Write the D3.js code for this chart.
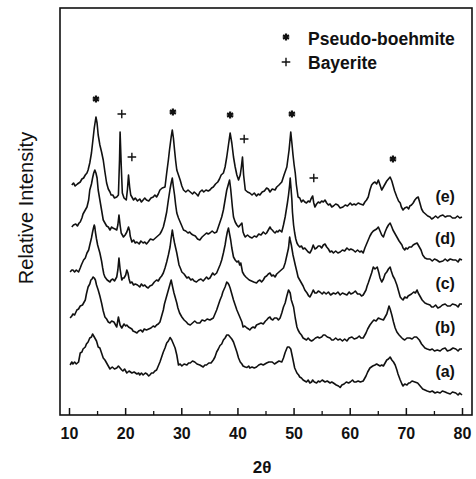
<!DOCTYPE html>
<html lang="en">

<head>
	<meta charset="UTF-8">
	<title>XRD patterns</title>

	<style>
		body {
			margin: 0;
			background: #fff;
		}

		text {
			font-family: "Liberation Sans", Arial, sans-serif;
			fill: #111;
		}
	</style>

	<script src="https://d3js.org/d3.v7.min.js"></script>

</head>

<body>

	<script type="text/javascript">
		// patterns, [2theta, intensity] (arbitrary units, offsets included)
		const curveA = [[10.2,50],[10.5,53],[10.7,51],[11.0,53],[11.3,51],[11.7,53],[12.0,62],[12.3,63],[12.5,66],[12.9,68],[13.1,71],[13.4,73],[13.7,77],[14.0,78],[14.2,81],[14.4,79],[14.6,77],[14.9,74],[15.2,68],[15.5,67],[15.8,62],[16.1,57],[16.4,55],[16.7,52],[17.0,49],[17.3,46],[17.7,48],[18.1,46],[18.5,47],[18.8,49],[19.1,47],[19.4,45],[19.6,44],[19.9,46],[20.3,42],[20.7,44],[21.2,42],[21.6,43],[22.1,41],[22.4,42],[22.6,40],[22.9,42],[23.2,40],[23.6,42],[23.9,41],[24.2,39],[24.4,40],[24.7,42],[25.0,42],[25.3,44],[25.6,45],[25.9,49],[26.2,53],[26.5,58],[26.8,63],[27.1,67],[27.4,72],[27.7,74],[28.0,77.5],[28.3,75],[28.6,71],[28.9,67],[29.2,60],[29.5,50],[29.8,51],[30.1,49],[30.5,51],[31.0,50],[31.3,52],[31.6,52],[32.0,54],[32.4,53],[32.8,51],[33.3,50],[33.6,49],[33.9,48],[34.2,50],[34.5,50],[34.9,52],[35.3,52],[35.7,55],[36.0,58],[36.3,63],[36.6,66],[36.9,69.5],[37.2,71],[37.5,75],[37.8,77],[38.1,80],[38.4,80],[38.7,78],[39.0,76],[39.3,73],[39.6,68],[39.9,63],[40.2,57],[40.5,53],[40.8,51],[41.0,49],[41.4,48],[41.7,47.5],[42.0,49],[42.2,47],[42.6,48],[43.0,47],[43.4,48],[43.8,50],[44.2,51],[44.6,50],[45.2,52],[45.6,53],[46.2,53],[46.6,51],[47.0,52.5],[47.4,54],[47.9,53],[48.2,57],[48.5,62.5],[48.9,68],[49.2,68],[49.5,66],[49.8,58],[50.2,47],[50.6,42],[50.9,40],[51.1,38],[51.4,37],[51.7,35],[52.0,34],[52.3,33],[52.6,35],[52.9,32],[53.2,33],[53.4,35],[53.7,33],[54.1,32],[54.4,34],[54.7,33],[55.1,35],[55.6,33],[56.0,34],[56.5,32],[56.8,33],[57.1,32],[57.6,30],[58.0,29],[58.3,27.5],[58.6,30],[59.0,31],[59.4,33],[59.8,32],[60.1,33],[60.5,35],[60.8,33],[61.1,33],[61.5,34],[61.9,33],[62.4,34],[62.9,39],[63.2,43],[63.6,47],[64.1,49],[64.5,50],[64.8,51],[65.1,50],[65.4,49],[65.7,50],[66.0,49],[66.3,52],[66.6,55],[66.9,56],[67.2,58],[67.5,55],[67.8,53],[68.1,50],[68.4,45],[68.6,41],[69.0,35],[69.3,31],[69.5,29],[69.8,31],[70.2,30],[70.5,32],[70.7,32],[71.1,34],[71.6,33],[72.1,32],[72.4,30],[72.7,28],[73.0,26],[73.4,25],[73.8,24],[74.3,23],[74.7,24],[75.2,22],[75.6,23],[76.1,22],[76.5,24],[77.0,23],[77.4,22],[77.9,21],[78.3,23],[78.9,22],[79.3,20],[79.6,22],[80.0,20]];

		const curveB = [[10.2,97],[10.5,99],[10.7,101],[11.0,100],[11.4,105],[11.7,106],[12.0,109],[12.4,110],[12.9,115],[13.1,121],[13.4,128],[13.7,131],[13.9,135],[14.1,136],[14.3,138],[14.5,137],[14.7,135],[14.9,130],[15.2,125],[15.5,119],[15.8,112],[16.1,104],[16.4,98],[16.7,96],[17.0,93],[17.3,92],[17.6,94],[18.0,93],[18.3,90],[18.5,88],[18.8,98],[19.1,90],[19.4,87],[19.6,89],[19.8,91],[20.1,89],[20.3,90],[20.6,88],[20.9,87],[21.2,86],[21.4,84],[21.8,83],[22.1,82],[22.4,84],[22.8,85],[23.1,83],[23.4,86],[23.8,85],[24.2,86],[24.6,87],[25.0,89],[25.3,88],[25.6,90],[25.9,91],[26.2,93],[26.5,99],[26.8,105],[27.0,111],[27.3,117],[27.5,121],[27.7,125],[28.0,131],[28.2,135],[28.5,127],[28.7,122],[28.9,118],[29.2,112],[29.4,107],[29.7,102],[30.1,98],[30.5,95],[30.9,93],[31.2,91],[31.6,90],[32.0,92],[32.4,94],[32.8,92],[33.3,92],[33.7,95],[34.2,94],[34.6,96],[35.1,95],[35.4,96],[35.7,97],[36.0,101],[36.3,105],[36.6,110],[36.9,115],[37.2,119],[37.4,123],[37.8,128],[38.1,133],[38.3,132],[38.5,130],[38.7,127],[38.9,123],[39.1,119],[39.3,115],[39.6,110],[39.9,105],[40.2,101],[40.5,97],[40.8,93],[41.0,88],[41.3,89],[41.7,87],[42.0,86],[42.2,85],[42.5,87],[42.8,88],[43.1,87],[43.4,90],[43.8,91],[44.2,92],[44.6,91],[45.0,94],[45.2,95],[45.5,97],[45.8,98],[46.0,96],[46.3,95],[46.6,97],[47.0,97],[47.3,95],[47.6,97],[47.9,102],[48.2,108],[48.5,112],[48.8,119],[49.1,125],[49.4,122],[49.6,115],[50.0,108],[50.3,97],[50.6,88],[50.8,85],[51.1,82],[51.4,80],[51.7,77],[52.0,76],[52.3,75],[52.6,77],[52.9,75],[53.2,74],[53.5,75],[53.9,77],[54.3,78],[54.6,77],[55.0,78],[55.3,80],[55.6,80],[56.0,78],[56.5,77],[56.8,75],[57.1,75],[57.5,77],[57.9,75],[58.3,76],[58.7,74],[59.1,76],[59.5,74],[59.9,77],[60.4,78],[60.8,76],[61.3,77],[61.7,79],[62.0,77],[62.4,77],[62.9,82],[63.2,86],[63.6,90],[64.0,93],[64.3,95],[64.7,94],[65.1,97],[65.5,96],[66.0,95],[66.3,98],[66.6,101],[66.8,105],[67.0,109],[67.2,106],[67.5,100],[67.8,93],[68.1,87],[68.4,83],[68.8,80],[69.3,77],[69.5,76],[69.8,75],[70.2,77],[70.7,77],[71.1,76],[71.5,78],[71.9,78],[72.4,75],[72.8,71],[73.1,69],[73.4,67],[73.8,66],[74.3,65],[74.7,66],[75.1,64],[75.6,65],[76.1,64],[76.5,66],[77.0,67],[77.4,64],[77.9,65],[78.4,67],[78.9,66],[79.3,64],[79.6,66],[80.0,66]];

		const curveC = [[10.2,143],[10.5,145],[10.7,145],[11.0,143],[11.3,145],[11.7,143],[12.0,147],[12.2,150],[12.6,155],[12.9,157],[13.2,162],[13.5,165],[13.7,170],[14.0,177],[14.2,183],[14.4,188],[14.5,190],[14.6,188],[14.7,183],[14.9,176],[15.1,170],[15.3,166],[15.5,162],[15.8,154],[16.0,147],[16.2,141],[16.4,138],[16.8,135],[17.3,133],[17.5,135],[17.8,136],[18.1,134],[18.5,138],[18.7,145],[18.9,157],[19.1,146],[19.4,135],[19.6,137],[19.8,137],[20.1,140],[20.3,145],[20.5,142],[20.7,136],[20.9,132],[21.2,133],[21.5,130],[21.8,131],[22.2,130],[22.6,128],[22.9,131],[23.2,129],[23.5,130],[23.8,128],[24.1,127],[24.4,129],[24.8,130],[25.2,133],[25.6,135],[25.9,134],[26.2,137],[26.5,139],[26.8,142],[27.1,147],[27.4,153],[27.7,160],[28.0,168],[28.2,177],[28.4,185],[28.6,178],[28.8,172],[29.0,167],[29.2,162],[29.4,156],[29.6,150],[29.9,146],[30.1,143],[30.5,141],[31.0,137],[31.3,138],[31.7,135],[32.0,136],[32.3,134],[32.7,133],[33.1,135],[33.5,136],[33.9,134],[34.2,136],[34.5,138],[34.8,136],[35.1,137],[35.4,140],[35.6,142],[35.9,140],[36.3,142],[36.6,146],[36.9,150],[37.2,155],[37.5,162],[37.8,170],[38.0,177],[38.2,183],[38.4,187],[38.6,181],[38.8,175],[39.0,167],[39.3,158],[39.6,155],[39.9,153],[40.2,154],[40.4,150],[40.6,152],[40.9,143],[41.2,140],[41.5,138],[41.7,137],[42.1,135],[42.5,134],[42.9,133],[43.4,132],[43.7,134],[44.0,135],[44.3,133],[44.6,135],[44.9,138],[45.2,139],[45.5,141],[45.8,142],[46.1,139],[46.4,140],[46.7,138],[47.0,141],[47.4,143],[47.8,145],[48.2,147],[48.5,152],[48.7,157],[48.9,162],[49.1,167],[49.3,178],[49.4,175],[49.6,170],[49.9,160],[50.1,155],[50.3,150],[50.6,143],[50.8,138],[51.1,135],[51.4,132],[51.7,129],[52.0,125],[52.4,122],[52.7,119],[52.9,118],[53.2,121],[53.5,125],[53.8,122],[54.1,122],[54.4,124],[54.7,123],[55.1,121],[55.4,123],[55.8,121],[56.2,123],[56.6,120],[57.1,122],[57.5,121],[57.9,123],[58.3,120],[58.7,122],[59.1,121],[59.5,120],[59.9,123],[60.2,121],[60.6,122],[61.0,124],[61.4,121],[61.8,121],[62.1,119],[62.4,120],[62.7,123],[62.9,125],[63.1,129],[63.3,132],[63.6,137],[63.9,142],[64.2,148],[64.5,146],[64.9,148],[65.2,142],[65.4,137],[65.7,133],[66.0,136],[66.3,141],[66.6,143],[66.9,146],[67.2,148],[67.4,144],[67.7,139],[68.0,136],[68.4,130],[68.7,124],[69.0,118],[69.3,116],[69.5,115],[69.8,118],[70.2,117],[70.4,119],[70.7,120],[71.0,121],[71.4,123],[71.7,122],[72.0,125],[72.2,122],[72.5,119],[72.9,115],[73.4,112],[73.8,111],[74.3,110],[74.6,108],[74.9,108],[75.3,110],[75.7,107],[76.1,108],[76.5,110],[77.0,111],[77.4,109],[77.9,109],[78.3,111],[78.9,110],[79.3,108],[79.6,111],[80.0,111]];

		const curveD = [[10.5,188],[10.8,190],[11.2,191],[11.5,189],[11.8,192],[12.0,193],[12.3,197],[12.5,201],[12.9,205],[13.2,208],[13.5,215],[13.7,225],[14.0,231],[14.2,237],[14.4,242],[14.6,245],[14.8,242],[15.0,237],[15.2,225],[15.5,215],[15.8,205],[16.1,195],[16.4,192],[16.7,189],[17.0,188],[17.3,185],[17.6,188],[17.8,187],[18.2,186],[18.5,185],[18.7,190],[18.9,200],[19.1,190],[19.3,182],[19.5,180],[19.7,178],[20.0,180],[20.3,183],[20.6,188],[20.8,184],[20.9,179],[21.2,173],[21.5,175],[21.8,172],[22.1,173],[22.5,171],[22.8,174],[23.2,172],[23.5,173],[23.8,171],[24.1,173],[24.5,176],[25.0,175],[25.4,177],[25.8,179],[26.2,181],[26.5,184],[26.8,188],[27.1,195],[27.4,203],[27.7,215],[28.0,226],[28.2,232],[28.4,237],[28.6,228],[28.8,220],[29.0,210],[29.2,202],[29.5,197],[29.8,193],[30.1,189],[30.4,185],[30.8,184],[31.2,182],[31.5,183],[31.8,181],[32.1,180],[32.5,179],[32.9,176],[33.3,175],[33.7,178],[34.1,180],[34.5,182],[34.8,181],[35.1,182],[35.5,184],[35.9,182],[36.3,183],[36.6,188],[36.9,193],[37.2,198],[37.5,205],[37.8,215],[38.1,225],[38.4,231],[38.6,235],[38.8,226],[38.9,220],[39.1,208],[39.3,198],[39.6,193],[39.9,190],[40.2,188],[40.5,190],[40.8,192],[41.0,183],[41.2,180],[41.4,178],[41.8,180],[42.2,178],[42.6,177],[43.0,179],[43.4,178],[43.8,181],[44.2,180],[44.6,183],[45.0,181],[45.2,182],[45.5,185],[45.8,188],[46.0,186],[46.2,185],[46.5,183],[46.7,182],[47.0,184],[47.2,183],[47.5,185],[47.9,183],[48.2,190],[48.5,198],[48.7,205],[48.9,212],[49.1,220],[49.3,230],[49.4,237],[49.5,230],[49.7,215],[49.8,203],[50.0,190],[50.2,182],[50.4,176],[50.6,172],[50.8,170],[51.1,168],[51.4,169],[51.7,166],[52.0,167],[52.3,165],[52.6,163],[52.9,162],[53.2,165],[53.5,170],[53.8,166],[54.1,167],[54.4,169],[54.7,169],[55.0,167],[55.3,170],[55.6,171],[55.9,168],[56.2,166],[56.5,163],[56.8,164],[57.1,162],[57.5,164],[57.9,162],[58.3,163],[58.7,165],[59.1,164],[59.5,167],[59.9,165],[60.2,166],[60.6,165],[61.0,163],[61.4,165],[61.8,163],[62.1,164],[62.4,162],[62.7,167],[63.0,171],[63.3,175],[63.6,179],[63.9,182],[64.2,184],[64.5,185],[64.8,186],[65.1,188],[65.4,184],[65.7,180],[66.0,178],[66.3,183],[66.6,187],[66.9,190],[67.2,192],[67.5,188],[67.7,185],[68.0,182],[68.4,178],[68.8,174],[69.3,170],[69.5,167],[69.8,165],[70.0,167],[70.3,166],[70.6,168],[71.0,168],[71.3,170],[71.6,171],[72.0,172],[72.3,169],[72.7,165],[73.0,160],[73.4,157],[73.8,156],[74.3,156],[74.7,154],[75.1,156],[75.5,155],[76.0,153],[76.6,154],[77.0,156],[77.4,154],[77.9,156],[78.4,155],[78.9,155],[79.3,153],[79.6,156],[80.0,155]];

		const curveE = [[10.5,230],[10.8,232],[11.1,229],[11.5,231],[12.0,233],[12.3,236],[12.6,237],[12.9,240],[13.2,242],[13.4,245],[13.7,252],[14.0,262],[14.2,272],[14.5,287],[14.8,298],[15.0,292],[15.2,280],[15.5,270],[15.8,263],[16.1,255],[16.4,243],[16.7,232],[17.0,226],[17.3,223],[17.5,220],[17.8,220],[18.1,217],[18.5,218],[18.8,220],[19.0,255],[19.1,283],[19.3,250],[19.5,222],[19.8,217],[20.2,215],[20.4,225],[20.6,240],[20.8,228],[21.0,220],[21.2,218],[21.5,215],[21.8,217],[22.2,214],[22.6,216],[22.9,213],[23.2,215],[23.5,217],[23.8,215],[24.2,214],[24.6,217],[25.0,218],[25.3,220],[25.6,218],[25.9,221],[26.2,225],[26.6,227],[27.1,228],[27.4,242],[27.7,255],[27.9,265],[28.2,278],[28.4,285],[28.6,277],[28.8,265],[29.0,254],[29.2,245],[29.5,240],[29.8,235],[30.1,229],[30.4,225],[30.8,223],[31.2,225],[31.6,223],[32.0,221],[32.3,223],[32.7,221],[33.0,219],[33.3,223],[33.7,225],[34.0,223],[34.4,225],[34.8,224],[35.1,225],[35.4,227],[35.7,228],[36.1,231],[36.5,233],[36.8,236],[37.1,240],[37.5,242],[37.8,248],[38.1,258],[38.4,270],[38.7,282],[39.0,272],[39.3,258],[39.6,248],[39.9,240],[40.2,235],[40.5,240],[40.7,248],[40.9,258],[41.1,240],[41.4,225],[41.8,223],[42.2,222],[42.6,220],[43.0,222],[43.4,219],[43.7,221],[44.0,220],[44.4,223],[44.8,224],[45.2,227],[45.5,226],[45.8,223],[46.2,226],[46.7,225],[47.0,228],[47.4,230],[47.9,233],[48.3,240],[48.8,248],[49.2,265],[49.5,283],[49.7,272],[49.9,260],[50.1,250],[50.3,242],[50.5,230],[50.8,218],[51.1,217],[51.4,213],[51.7,215],[52.0,213],[52.3,212],[52.6,214],[52.9,213],[53.1,216],[53.4,219],[53.6,212],[53.8,208],[54.1,211],[54.4,213],[54.7,212],[55.0,214],[55.3,213],[55.6,215],[55.9,212],[56.2,210],[56.5,211],[56.8,208],[57.1,209],[57.5,211],[57.9,210],[58.3,207],[58.8,208],[59.2,210],[59.6,209],[60.1,212],[60.4,210],[60.8,211],[61.1,210],[61.5,212],[61.9,211],[62.4,210],[62.7,213],[63.0,215],[63.3,218],[63.6,225],[63.9,230],[64.2,232],[64.5,233],[64.8,231],[65.1,235],[65.4,230],[65.7,225],[66.0,228],[66.3,231],[66.6,234],[66.9,236],[67.2,238],[67.5,234],[67.7,230],[68.0,224],[68.4,218],[68.7,214],[69.0,212],[69.2,208],[69.5,205],[69.8,207],[70.2,208],[70.5,206],[70.7,209],[71.0,210],[71.3,212],[71.6,215],[71.9,217],[72.2,218],[72.4,214],[72.6,210],[72.8,206],[73.1,203],[73.5,201],[73.9,199],[74.3,198],[74.6,196],[74.9,197],[75.3,199],[75.7,197],[76.1,199],[76.6,200],[77.0,198],[77.4,199],[77.9,199],[78.3,197],[78.8,197],[79.2,199],[79.6,197],[80.0,198]];

		const curves = [curveA, curveB, curveC, curveD, curveE];
		const curveLabels = ["(a)", "(b)", "(c)", "(d)", "(e)"];

		// peak positions marked above pattern (e)
		const boehmitePeaks = [14.8, 28.5, 38.7, 49.7, 67.7];
		const bayeritePeaks = [19.4, 21.2, 41.2, 53.6];

		const legendNames = ["Pseudo-boehmite", "Bayerite"];
		const xTicks = [10, 20, 30, 40, 50, 60, 70, 80];
		const xMinorTicks = [15, 25, 35, 45, 55, 65, 75];

		let width = 476;
		let height = 479;

		const plot = { left: 60, right: 472, top: 8, bottom: 415 };

		const svg = d3.select("body").append("svg")
			.attr("width", width)
			.attr("height", height);

		const x = d3.scaleLinear()
			.domain([10, 80])
			.range([69, 462]);

		const y = d3.scaleLinear()
			.domain([0, 407])
			.range([plot.bottom, plot.top]);

		// frame
		svg.append("rect")
			.attr("x", plot.left)
			.attr("y", plot.top)
			.attr("width", plot.right - plot.left)
			.attr("height", plot.bottom - plot.top)
			.style("fill", "none")
			.style("stroke", "#111")
			.style("stroke-width", 1.6);

		// bottom axis, ticks pointing inside
		const xAxis = svg.append("g")
			.attr("transform", "translate(0," + plot.bottom + ")")
			.call(d3.axisBottom(x).tickValues(xTicks).tickSizeInner(-7).tickSizeOuter(0).tickPadding(13));
		xAxis.select(".domain").remove();
		xAxis.selectAll("line").style("stroke", "#111").style("stroke-width", 1.5);
		xAxis.selectAll("text")
			.style("font-size", "16px")
			.style("font-weight", "bold")
			.style("font-family", "'Liberation Sans', Arial, sans-serif")
			.style("fill", "#111");

		const xMinor = svg.append("g")
			.attr("transform", "translate(0," + plot.bottom + ")")
			.call(d3.axisBottom(x).tickValues(xMinorTicks).tickSizeInner(-4).tickSizeOuter(0).tickFormat(""));
		xMinor.select(".domain").remove();
		xMinor.selectAll("line").style("stroke", "#111").style("stroke-width", 1.3);

		// axis titles
		svg.append("text")
			.attr("x", x(44.4))
			.attr("y", 473)
			.attr("text-anchor", "middle")
			.style("font-size", "17px")
			.style("font-weight", "bold")
			.text("2θ");

		svg.append("text")
			.attr("transform", "translate(33,208) rotate(-90)")
			.attr("text-anchor", "middle")
			.style("font-size", "20px")
			.text("Relative Intensity");

		// the patterns
		const line = d3.line()
			.x(function(d) {
				return x(d[0]);
			})
			.y(function(d) {
				return y(d[1]);
			});

		svg.selectAll(".pattern")
			.data(curves)
			.join("path")
			.attr("class", "pattern")
			.attr("d", line)
			.style("fill", "none")
			.style("stroke", "#111")
			.style("stroke-width", 1.6)
			.style("stroke-linejoin", "round");

		// (a)..(e) labels sit a little above each pattern near 77 degrees
		const bisect = d3.bisector(function(d) {
			return d[0];
		});
		svg.selectAll(".clabel")
			.data(curves)
			.join("text")
			.attr("class", "clabel")
			.attr("x", x(77))
			.attr("y", function(d) {
				return y(d[bisect.center(d, 77)][1]) - 21;
			})
			.attr("text-anchor", "middle")
			.attr("dominant-baseline", "central")
			.style("font-size", "16px")
			.style("font-weight", "bold")
			.text(function(d, i) {
				return curveLabels[i];
			});

		// peak markers above pattern (e)
		function peakTop(t) {
			const near = curveE.filter(function(d) {
				return Math.abs(d[0] - t) <= 0.7;
			});
			return y(d3.max(near, function(d) {
				return d[1];
			})) - 18;
		}

		const star = d3.symbol().type(d3.symbolAsterisk).size(34);
		const plus = d3.symbol().type(d3.symbolPlus).size(26);

		svg.selectAll(".boehmite")
			.data(boehmitePeaks)
			.join("path")
			.attr("class", "boehmite")
			.attr("d", star)
			.attr("transform", function(d) {
				return "translate(" + x(d) + "," + peakTop(d) + ")";
			})
			.style("fill", "none")
			.style("stroke", "#111")
			.style("stroke-width", 2.2);

		svg.selectAll(".bayerite")
			.data(bayeritePeaks)
			.join("path")
			.attr("class", "bayerite")
			.attr("d", plus)
			.attr("transform", function(d) {
				return "translate(" + x(d) + "," + peakTop(d) + ")";
			})
			.style("fill", "none")
			.style("stroke", "#111")
			.style("stroke-width", 1.4);

		// legend
		const legend = svg.append("g").attr("transform", "translate(286,0)");
		legend.append("path")
			.attr("d", star)
			.attr("transform", "translate(0,37)")
			.style("fill", "none")
			.style("stroke", "#111")
			.style("stroke-width", 2.2);
		legend.append("path")
			.attr("d", plus)
			.attr("transform", "translate(0,62)")
			.style("fill", "none")
			.style("stroke", "#111")
			.style("stroke-width", 1.4);
		legend.selectAll(".lname")
			.data(legendNames)
			.join("text")
			.attr("class", "lname")
			.attr("x", 22)
			.attr("y", function(d, i) {
				return 45 + i * 24;
			})
			.style("font-size", "17.5px")
			.style("font-weight", "bold")
			.text(function(d) {
				return d;
			});
	</script>

</body>

</html>
